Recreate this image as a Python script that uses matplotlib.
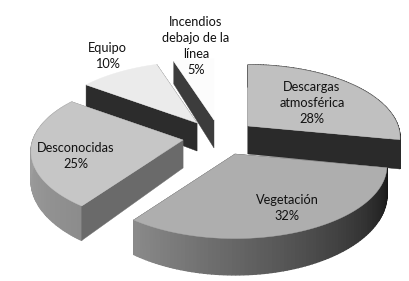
import numpy as np
import matplotlib
matplotlib.use("Agg")
import matplotlib.pyplot as plt

# clockwise from 12 o'clock
categories = ["Incendios\ndebajo de la\nlínea", "Descargas\natmosférica", "Vegetación", "Desconocidas", "Equipo"]
values = [5, 28, 32, 25, 10]

# ---- styles ----
apex = [(214, 120), (248, 126), (235, 154), (183, 140), (197, 123)]
top_col = ["#fcfcfc", "#c0c0c0", "#aeaeae", "#c6c6c6", "#ebebeb"]
face_col = ["#3c3c3c", "#2a2a2a", "#222222", "#6a6a6a", "#2c2c2c"]
wall_from = ["#3c3c3c", "#2a2a2a", "#161616", "#8c8c8c", "#2c2c2c"]
wall_to = ["#3c3c3c", "#2a2a2a", "#8a8a8a", "#aaaaaa", "#2c2c2c"]
label_pos = [(196, 45.5), (312, 103), (287, 208.5), (76, 155.5), (107, 56.5)]

R, Q, P, DEPTH = 150, 71, 0.16, 28


def project(t):
    # simple perspective for the tilted disc
    u, v = np.sin(t), np.cos(t)
    s = 1 / (1 + P * v)
    return R * u * s, -Q * v * s, DEPTH * s ** 1.5


def hex2rgb(c):
    return np.array(matplotlib.colors.to_rgb(c))


fig = plt.figure(figsize=(4.09, 2.81), dpi=100)
ax = fig.add_axes([0, 0, 1, 1])
ax.set_xlim(0, 409)
ax.set_ylim(281, 0)
ax.axis("off")

# angle range of every slice comes from the shares, Incendios ends at 12 o'clock
shares = np.array(values) / sum(values) * 2 * np.pi
ranges = {0: (2 * np.pi - shares[0], 2 * np.pi)}
a = 0
for i in range(1, len(values)):
    ranges[i] = (a, a + shares[i])
    a += shares[i]


def draw_slice(i, z):
    x0, y0 = apex[i]
    t0, t1 = ranges[i]
    ts = np.linspace(t0, t1, 90)
    x, y, d = project(ts)
    x = x + x0
    y = y + y0

    ends = sorted([0, -1], key=lambda k: y[k])
    for n, k in enumerate(ends):
        if i == 0 and n == 0:
            continue  # back face of Incendios doesn't show
        # front face over the wall, except on Vegetación where the top hides it
        zz = z + 0.2 if (n == 1 and i != 2) else z
        ax.fill([x0, x[k], x[k], x0], [y0, y[k], y[k] + d[k], y0 + DEPTH],
                color=face_col[i], lw=0.3, zorder=zz)

    # outer wall with shading along the arc (the two back slices have none in view)
    if i not in (0, 4):
        c0, c1 = hex2rgb(wall_from[i]), hex2rgb(wall_to[i])
        for k in range(len(ts) - 1):
            col = c0 + (c1 - c0) * k / (len(ts) - 2)
            ax.fill([x[k], x[k + 1], x[k + 1], x[k]],
                    [y[k], y[k + 1], y[k + 1] + d[k + 1], y[k] + d[k]],
                    color=col, lw=1.0, zorder=z + 0.1)

    ax.fill(np.r_[x0, x], np.r_[y0, y], color=top_col[i], lw=0.3, zorder=z + 0.3)


for z, i in enumerate([0, 4, 1, 3, 2]):
    draw_slice(i, z + 1)

for i, name in enumerate(categories):
    ax.text(label_pos[i][0], label_pos[i][1], "%s\n%d%%" % (name, values[i]),
            ha="center", va="center", family=["Lato", "DejaVu Sans"], fontsize=9.2,
            color="#111111", linespacing=1.4, zorder=20)

fig.savefig("out.png", dpi=100, facecolor="white")
